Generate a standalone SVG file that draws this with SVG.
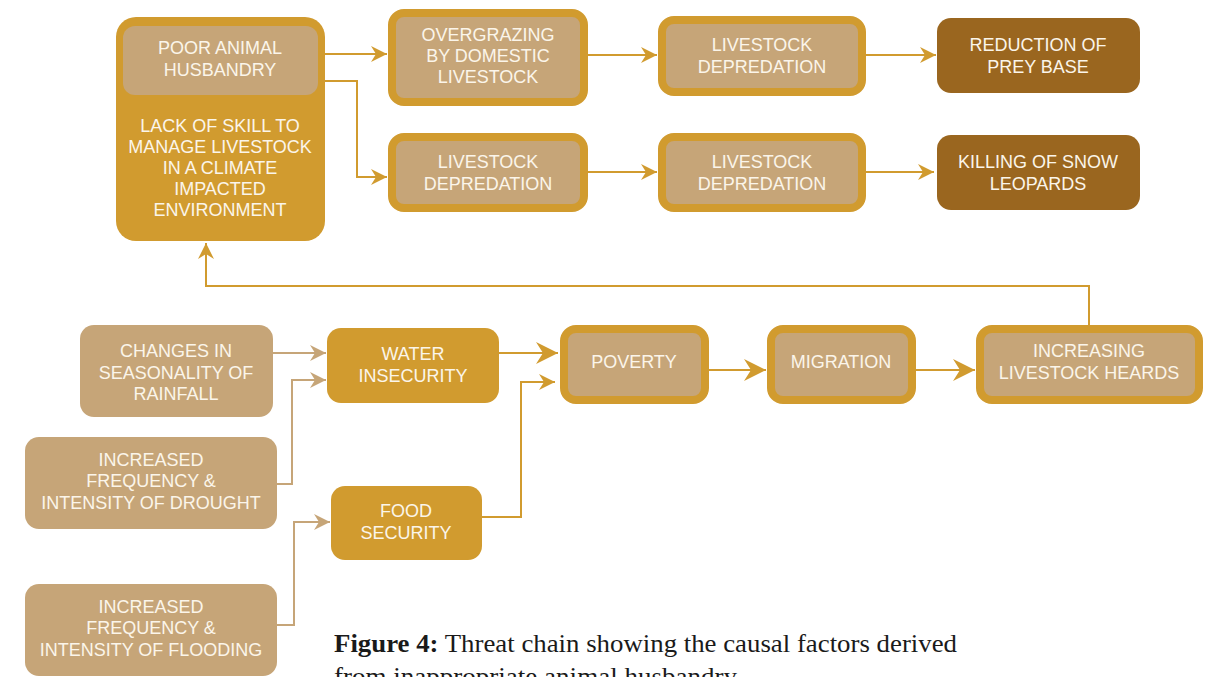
<svg xmlns="http://www.w3.org/2000/svg" width="1207" height="677" viewBox="0 0 1207 677">
<defs>
<style>
.t{font-family:"Liberation Sans",Arial,sans-serif;font-size:18px;fill:#FBF5EA;text-anchor:middle}
.gold{fill:#D19B2F}
.tan{fill:#C6A578}
.dark{fill:#9A661F}
.thick{fill:#C6A578;stroke:#D19B2F;stroke-width:8}
.cg{fill:none;stroke:#D19B2F;stroke-width:2}
.ct{fill:none;stroke:#C6A578;stroke-width:2}
.cap{font-family:"Liberation Serif","Times New Roman",serif;font-size:26px;fill:#1a1a1a}
</style>
<marker id="ag" markerUnits="userSpaceOnUse" markerWidth="18" markerHeight="18" refX="16" refY="8" orient="auto">
<path d="M0,0 L16,8 L0,16 L5,8 z" fill="#D19B2F"/>
</marker>
<marker id="agl" markerUnits="userSpaceOnUse" markerWidth="24" markerHeight="24" refX="22" refY="11" orient="auto">
<path d="M0,0 L22,11 L0,22 L7,11 z" fill="#D19B2F"/>
</marker>
<marker id="at" markerUnits="userSpaceOnUse" markerWidth="18" markerHeight="18" refX="16" refY="8" orient="auto">
<path d="M0,0 L16,8 L0,16 L5,8 z" fill="#C6A578"/>
</marker>
</defs>
<rect width="1207" height="677" fill="#ffffff"/>

<g id="connectors">
<path class="cg" d="M325,54 H387" marker-end="url(#ag)"/>
<path class="cg" d="M325,81 H357 V177 H387" marker-end="url(#ag)"/>
<path class="cg" d="M588,55 H657" marker-end="url(#ag)"/>
<path class="cg" d="M866,55 H936" marker-end="url(#ag)"/>
<path class="cg" d="M588,172 H657" marker-end="url(#ag)"/>
<path class="cg" d="M866,172 H934" marker-end="url(#ag)"/>
<path class="cg" d="M1089,325 V286 H206 V243" marker-end="url(#ag)"/>
<path class="ct" d="M273,353 H326" marker-end="url(#at)"/>
<path class="ct" d="M277,484 H292 V380 H326" marker-end="url(#at)"/>
<path class="ct" d="M277,625 H294 V522 H330" marker-end="url(#at)"/>
<path class="cg" d="M499,353 H558" marker-end="url(#agl)"/>
<path class="cg" d="M482,517 H521 V382 H555" marker-end="url(#ag)"/>
<path class="cg" d="M709,370 H766" marker-end="url(#agl)"/>
<path class="cg" d="M916,370 H975" marker-end="url(#agl)"/>
</g>

<g id="node-lack-skill">
<rect class="gold" x="116" y="17" width="209" height="224" rx="20"/>
<rect class="tan" x="123" y="26" width="195" height="69" rx="12"/>
<text class="t" x="220" y="54">POOR ANIMAL</text>
<text class="t" x="220" y="76">HUSBANDRY</text>
<text class="t" x="220" y="132">LACK OF SKILL TO</text>
<text class="t" x="220" y="153">MANAGE LIVESTOCK</text>
<text class="t" x="220" y="174">IN A CLIMATE</text>
<text class="t" x="220" y="195">IMPACTED</text>
<text class="t" x="220" y="216">ENVIRONMENT</text>
</g>

<g id="node-overgrazing">
<rect class="thick" x="392" y="13" width="192" height="89" rx="12"/>
<text class="t" x="488" y="41">OVERGRAZING</text>
<text class="t" x="488" y="62">BY DOMESTIC</text>
<text class="t" x="488" y="83">LIVESTOCK</text>
</g>

<g id="node-depredation-1">
<rect class="thick" x="662" y="20" width="200" height="72" rx="12"/>
<text class="t" x="762" y="51">LIVESTOCK</text>
<text class="t" x="762" y="73">DEPREDATION</text>
</g>

<g id="node-reduction">
<rect class="dark" x="937" y="18" width="203" height="75" rx="14"/>
<text class="t" x="1038" y="51">REDUCTION OF</text>
<text class="t" x="1038" y="73">PREY BASE</text>
</g>

<g id="node-depredation-2">
<rect class="thick" x="392" y="137" width="192" height="71" rx="12"/>
<text class="t" x="488" y="168">LIVESTOCK</text>
<text class="t" x="488" y="190">DEPREDATION</text>
</g>

<g id="node-depredation-3">
<rect class="thick" x="662" y="137" width="200" height="71" rx="12"/>
<text class="t" x="762" y="168">LIVESTOCK</text>
<text class="t" x="762" y="190">DEPREDATION</text>
</g>

<g id="node-killing">
<rect class="dark" x="937" y="135" width="203" height="75" rx="14"/>
<text class="t" x="1038" y="168">KILLING OF SNOW</text>
<text class="t" x="1038" y="190">LEOPARDS</text>
</g>

<g id="node-rainfall">
<rect class="tan" x="80" y="325" width="193" height="92" rx="14"/>
<text class="t" x="176" y="357">CHANGES IN</text>
<text class="t" x="176" y="379">SEASONALITY OF</text>
<text class="t" x="176" y="400">RAINFALL</text>
</g>

<g id="node-drought">
<rect class="tan" x="25" y="437" width="252" height="92" rx="14"/>
<text class="t" x="151" y="466">INCREASED</text>
<text class="t" x="151" y="487">FREQUENCY &amp;</text>
<text class="t" x="151" y="509">INTENSITY OF DROUGHT</text>
</g>

<g id="node-flooding">
<rect class="tan" x="25" y="584" width="252" height="92" rx="14"/>
<text class="t" x="151" y="613">INCREASED</text>
<text class="t" x="151" y="634">FREQUENCY &amp;</text>
<text class="t" x="151" y="656">INTENSITY OF FLOODING</text>
</g>

<g id="node-water">
<rect class="gold" x="327" y="328" width="172" height="75" rx="14"/>
<text class="t" x="413" y="360">WATER</text>
<text class="t" x="413" y="382">INSECURITY</text>
</g>

<g id="node-food">
<rect class="gold" x="331" y="486" width="151" height="74" rx="14"/>
<text class="t" x="406" y="517">FOOD</text>
<text class="t" x="406" y="539">SECURITY</text>
</g>

<g id="node-poverty">
<rect class="thick" x="564" y="329" width="141" height="71" rx="12"/>
<text class="t" x="634" y="368">POVERTY</text>
</g>

<g id="node-migration">
<rect class="thick" x="771" y="329" width="141" height="71" rx="12"/>
<text class="t" x="841" y="368">MIGRATION</text>
</g>

<g id="node-increasing">
<rect class="thick" x="980" y="329" width="219" height="71" rx="12"/>
<text class="t" x="1089" y="357">INCREASING</text>
<text class="t" x="1089" y="379">LIVESTOCK HEARDS</text>
</g>

<text class="cap" x="334" y="652" textLength="623" lengthAdjust="spacingAndGlyphs"><tspan font-weight="bold">Figure 4:</tspan> Threat chain showing the causal factors derived</text>
<text class="cap" x="334" y="685" textLength="403" lengthAdjust="spacingAndGlyphs">from inappropriate animal husbandry</text>
</svg>
